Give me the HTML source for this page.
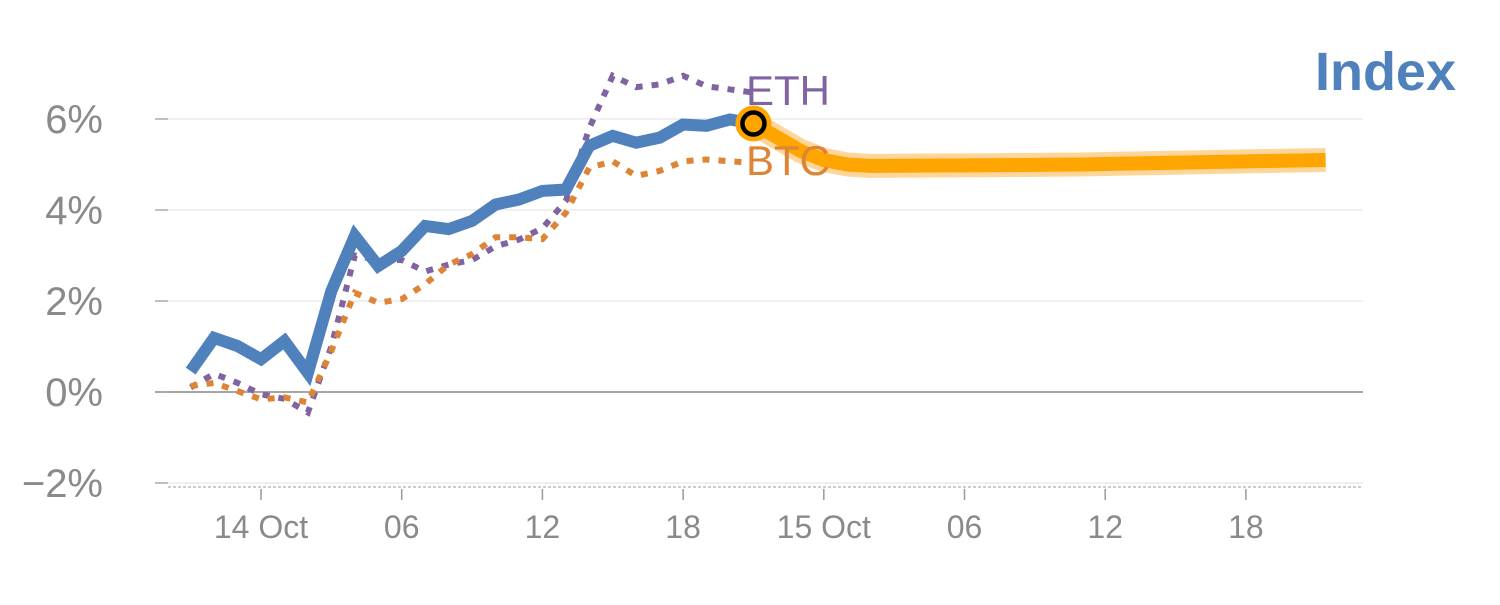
<!DOCTYPE html>
<html><head><meta charset="utf-8"><style>
body{margin:0;background:#fff}
svg text{font-family:"Liberation Sans",Arial,sans-serif}
</style></head><body>
<svg id="c" width="1500" height="600" xmlns="http://www.w3.org/2000/svg"></svg>
<script>
const hours=[-3,-2,-1,0,1,2,3,4,5,6,7,8,9,10,11,12,13,14,15,16,17,18,19,20,21];
const indexVals=[0.46,1.19,1.01,0.72,1.12,0.42,2.22,3.43,2.77,3.1,3.65,3.58,3.76,4.12,4.23,4.42,4.45,5.41,5.63,5.48,5.59,5.88,5.85,5.99,5.9];
const ethVals=[0.1,0.4,0.2,-0.05,-0.15,-0.45,1.0,3.0,2.9,2.9,2.65,2.8,2.9,3.2,3.35,3.6,4.2,5.8,6.95,6.7,6.76,6.95,6.72,6.65,6.58];
const btcVals=[0.13,0.2,0.02,-0.16,-0.12,-0.23,0.9,2.18,1.96,2.04,2.37,2.8,3.03,3.4,3.4,3.36,3.94,4.93,5.07,4.75,4.86,5.07,5.11,5.07,5.04];
const fcHours=[21,22,23,24,25,26,30,35,40,45.4];
const fcVals=[5.9,5.6,5.3,5.1,5.0,4.97,4.98,5.0,5.05,5.1];
const yTicks=[-2,0,2,4,6];
const xTickHours=[0,6,12,18,24,30,36,42];
const xTickLabels=["14 Oct","06","12","18","15 Oct","06","12","18"];
const NS="http://www.w3.org/2000/svg",svg=document.getElementById('c');
const X=h=>261+h*23.45, Y=v=>392-v*45.5;
function el(t,a,p){const e=document.createElementNS(NS,t);for(const k in a)e.setAttribute(k,a[k]);(p||svg).appendChild(e);return e;}
yTicks.forEach(v=>{
 const g=el('line',{x1:155,x2:1363,y1:Y(v),y2:Y(v),stroke:v===0?'#888':'#e6e6e6','stroke-width':v===0?1.5:1.2});
 
 el('line',{x1:155,x2:168,y1:Y(v),y2:Y(v),stroke:'#999','stroke-width':1.2});
 const t=el('text',{x:103,y:Y(v)+14,'text-anchor':'end','font-size':40,fill:'#8a8a8a'});
 t.textContent=(v<0?'\u2212'+(-v):v)+'%';
 
});
const base=el('line',{x1:168,x2:1363,y1:487,y2:487,stroke:'#ccc','stroke-width':2,'stroke-dasharray':'3,2'});

xTickHours.forEach((h,i)=>{
 el('line',{x1:X(h),x2:X(h),y1:489,y2:500,stroke:'#999','stroke-width':1.5});
 const t=el('text',{x:X(h),y:538,'text-anchor':'middle','font-size':32,fill:'#8a8a8a'});
 t.textContent=xTickLabels[i];
 
});
const pts=(hs,vs)=>hs.map((h,i)=>X(h)+','+Y(vs[i])).join(' ');
let p=el('polyline',{points:pts(hours,ethVals),fill:'none',stroke:'#8064a2','stroke-width':6,'stroke-dasharray':'7,9'});

p=el('polyline',{points:pts(hours,btcVals),fill:'none',stroke:'#dd8435','stroke-width':6,'stroke-dasharray':'7,9'});

p=el('polyline',{points:pts(hours,indexVals),fill:'none',stroke:'#4f81bd','stroke-width':12,'stroke-linejoin':'miter'});

p=el('polyline',{points:pts(fcHours,fcVals),fill:'none',stroke:'#ffd699','stroke-width':24,'stroke-linejoin':'round'});

p=el('polyline',{points:pts(fcHours,fcVals),fill:'none',stroke:'#ffa500','stroke-width':14,'stroke-linejoin':'round'});

const lx=X(hours[hours.length-1]),ly=Y(indexVals[indexVals.length-1]);
let m=el('circle',{cx:lx,cy:ly,r:18,fill:'#ffa500'});

el('circle',{cx:lx,cy:ly,r:11,fill:'none',stroke:'#000','stroke-width':4.5});
let t=el('text',{x:746,y:105,'font-size':42,fill:'#8064a2'});t.textContent='ETH';

t=el('text',{x:746,y:175,'font-size':42,fill:'#dd8435'});t.textContent='BTC';

t=el('text',{x:1456,y:90,'text-anchor':'end','font-size':54,'font-weight':'bold',fill:'#4f81bd'});t.textContent='Index';

</script>
</body></html>
